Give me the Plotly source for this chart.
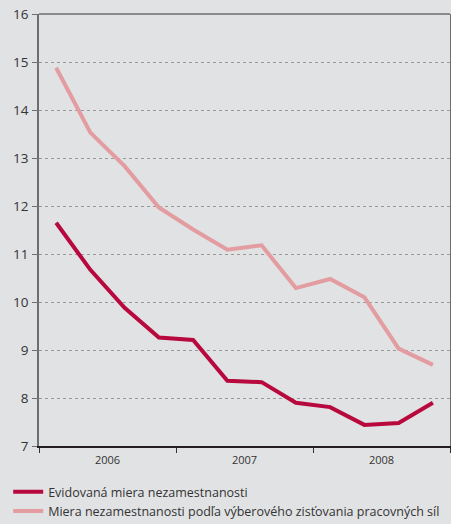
import numpy as np
import plotly.graph_objects as go

# Quarterly unemployment rates, 2006-2008 (%)
quarters = ["Q1 2006", "Q2 2006", "Q3 2006", "Q4 2006",
            "Q1 2007", "Q2 2007", "Q3 2007", "Q4 2007",
            "Q1 2008", "Q2 2008", "Q3 2008", "Q4 2008"]
registered = [11.65, 10.67, 9.88, 9.26, 9.21, 8.36, 8.33, 7.90, 7.81, 7.44, 7.48, 7.90]
lfs = [14.88, 13.53, 12.83, 11.97, 11.51, 11.09, 11.18, 10.29, 10.48, 10.10, 9.03, 8.69]
years = ["2006", "2007", "2008"]
y_ticks = [7, 8, 9, 10, 11, 12, 13, 14, 15, 16]

# each quarter sits in the middle of its slot on a 0..12 axis
x_pos = np.arange(len(quarters)) + 0.5

BG = "#e1e2e4"
FONT = "Open Sans"

fig = go.Figure()
fig.add_trace(go.Scatter(
    x=x_pos, y=registered, mode="lines", name="Evidovaná miera nezamestnanosti",
    line=dict(color="#b8093f", width=4), text=quarters,
))
fig.add_trace(go.Scatter(
    x=x_pos, y=lfs, mode="lines",
    name="Miera nezamestnanosti podľa výberového zisťovania pracovných síl",
    line=dict(color="#e39c9f", width=4), text=quarters,
))

fig.update_layout(
    width=451, height=524,
    margin=dict(l=39, r=1, t=14, b=78, autoexpand=False),
    paper_bgcolor=BG, plot_bgcolor=BG,
    font=dict(family=FONT, color="#333333"),
    showlegend=True,
    legend=dict(
        x=-0.075, y=-0.072, xanchor="left", yanchor="top",
        bgcolor="rgba(0,0,0,0)", font=dict(size=12.5, color="#333333"),
        tracegroupgap=0, itemwidth=30,
    ),
)

fig.update_xaxes(
    range=[0, 12], showgrid=False, zeroline=False,
    tickvals=[2, 6, 10], ticktext=years, ticks="",
    tickfont=dict(size=11, color="#333333"), ticklabelstandoff=3,
    showline=True, linecolor="#231f20", linewidth=1.5,
    minor=dict(tickvals=[0, 4, 8, 12], ticks="outside", ticklen=5,
               tickcolor="#333333", tickwidth=1, showgrid=False),
)
fig.update_yaxes(
    range=[7, 16], tickvals=y_ticks, zeroline=False,
    showgrid=True, gridcolor="#9a9a9a", griddash="dot", gridwidth=1,
    ticks="outside", ticklen=5, tickcolor="#6d6e71", tickwidth=1,
    tickfont=dict(size=13.5, color="#333333"), ticklabelstandoff=1,
    showline=True, linecolor="#6d6e71", linewidth=1.5, mirror=True,
)

# top edge of the frame
fig.add_shape(type="line", xref="paper", yref="paper", x0=0, x1=1, y0=1, y1=1,
              line=dict(color="#6d6e71", width=1.5))

fig.write_html("out.html")
